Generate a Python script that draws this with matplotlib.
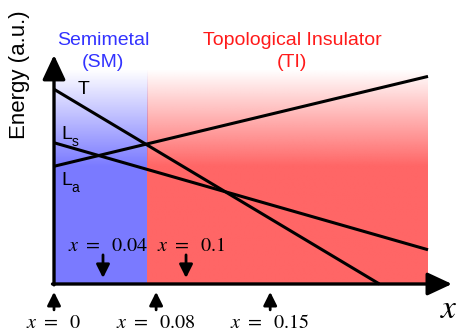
import numpy as np
import matplotlib
matplotlib.use('Agg')
import matplotlib.pyplot as plt

plt.rcParams['font.family'] = ['Liberation Sans', 'DejaVu Sans']
plt.rcParams['mathtext.fontset'] = 'stix'

# Schematic band energies (arbitrary units) at the two ends of each line
t_x = [0.0, 0.87]
t_e = [0.91, 0.0]
ls_x = [0.0, 1.0]
ls_e = [0.66, 0.16]
la_x = [0.0, 1.0]
la_e = [0.55, 0.97]

# Phase regions along the composition axis
sm_range = [0.0, 0.249]
ti_range = [0.249, 1.0]
region_top = 1.0

# Composition markers: (position, label)
above_marks = [(0.131, '0.04'), (0.353, '0.1')]
below_marks = [(0.0, '0'), (0.273, '0.08'), (0.578, '0.15')]


def gradient_fill(ax, x0, x1, rgb, full_at=0.55):
    # white at the top fading into the solid colour further down
    n = 200
    y = np.linspace(region_top, 0, n)
    alpha = np.clip((region_top - y) / (region_top - full_at), 0, 1)
    img = np.ones((n, 1, 4))
    img[:, 0, :3] = rgb
    img[:, 0, 3] = alpha
    ax.imshow(img, extent=[x0, x1, 0, region_top], aspect='auto',
              interpolation='bilinear', zorder=1)


fig = plt.figure(figsize=(4.57, 3.33), dpi=100)
ax = fig.add_axes([0, 0, 1, 1])

gradient_fill(ax, *sm_range, (0.48, 0.48, 1.0))
gradient_fill(ax, *ti_range, (1.0, 0.40, 0.40))
ax.set_xlim(-0.1444, 1.0775)
ax.set_ylim(-0.229, 1.327)
ax.axis('off')

for xs, es in [(t_x, t_e), (ls_x, ls_e), (la_x, la_e)]:
    ax.plot(xs, es, color='black', lw=2.2, solid_capstyle='butt', zorder=3)

# axes with arrow heads
axis_style = dict(arrowstyle='-|>,head_length=0.75,head_width=0.35',
                  color='black', lw=2.4, shrinkA=0, shrinkB=0, mutation_scale=20)
ax.annotate('', xy=(1.064, 0), xytext=(-0.004, 0), arrowprops=axis_style, zorder=4)
ax.annotate('', xy=(0, 1.07), xytext=(0, -0.004), arrowprops=axis_style, zorder=4)

ax.text(-0.091, 0.977, 'Energy (a.u.)', rotation=90, ha='center', va='center',
        fontsize=16)
ax.text(1.056, -0.121, r'$x$', ha='center', va='center', fontsize=24)

ax.text(0.131, 1.140, 'Semimetal', color='#3333ff', ha='center', va='center', fontsize=14)
ax.text(0.131, 1.037, '(SM)', color='#3333ff', ha='center', va='center', fontsize=14)
ax.text(0.636, 1.140, 'Topological Insulator', color='#ff1a1a', ha='center',
        va='center', fontsize=14)
ax.text(0.636, 1.037, '(TI)', color='#ff1a1a', ha='center', va='center', fontsize=14)

ax.text(0.078, 0.911, 'T', ha='center', va='center', fontsize=14, zorder=5)
for y, sub in [(0.70, 's'), (0.485, 'a')]:
    ax.text(0.021, y, 'L', ha='left', va='center', fontsize=14, zorder=5)
    ax.text(0.046, y - 0.035, sub, ha='left', va='center', fontsize=10, zorder=5)

small_arrow = dict(arrowstyle='-|>,head_length=0.5,head_width=0.25',
                   color='black', lw=2.0, shrinkA=0, shrinkB=0, mutation_scale=16)
for pos, lab in above_marks:
    ax.annotate('', xy=(pos, 0.028), xytext=(pos, 0.136), arrowprops=small_arrow, zorder=5)
    ax.text(pos + 0.015, 0.178, r'$x\ =\ \ \mathrm{' + lab + '}$', ha='center',
            va='center', fontsize=14.5, zorder=5)
for pos, lab in below_marks:
    ax.annotate('', xy=(pos, -0.037), xytext=(pos, -0.121), arrowprops=small_arrow)
    ax.text(pos, -0.182, r'$x\ =\ \ \mathrm{' + lab + '}$', ha='center',
            va='center', fontsize=14.5)

fig.savefig('out.png', dpi=100)
